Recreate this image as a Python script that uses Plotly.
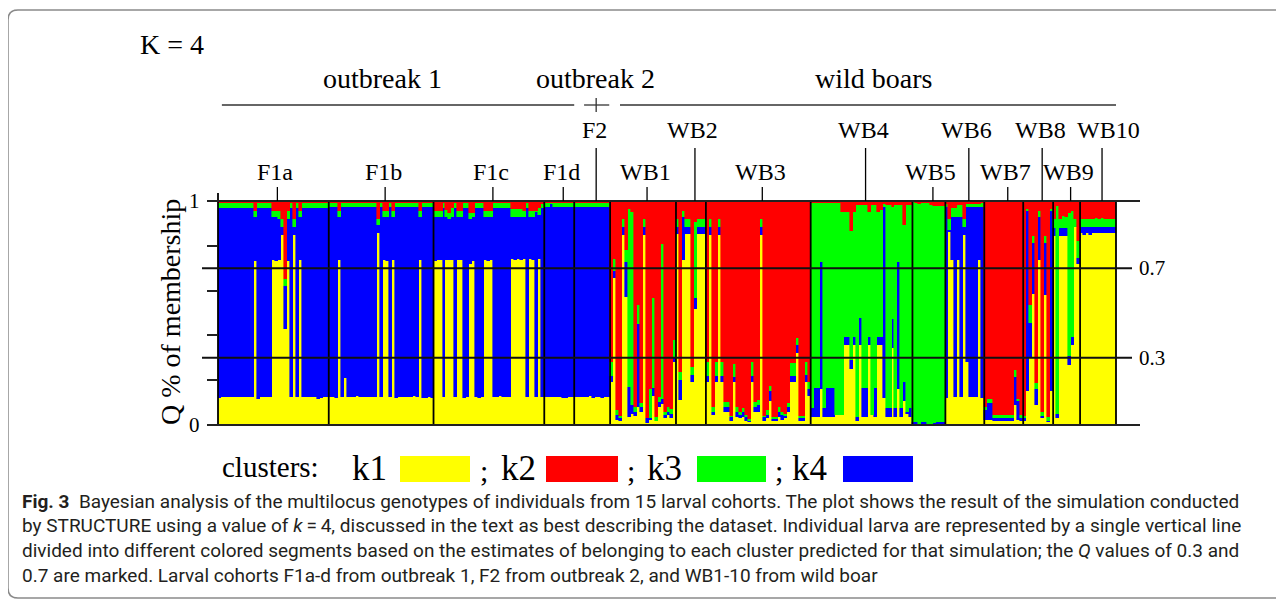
import plotly.graph_objects as go

# ---------------- data ----------------
groups = ["F1a", "F1b", "F1c", "F1d", "F2", "WB1", "WB2", "WB3", "WB4", "WB5",
          "WB6", "WB7", "WB8", "WB9", "WB10"]
upper_row = ["F2", "WB2", "WB4", "WB6", "WB8", "WB10"]
origins = ["outbreak 1", "outbreak 2", "wild boars"]
origin_members = [["F1a", "F1b", "F1c", "F1d"], ["F2"],
                  ["WB1", "WB2", "WB3", "WB4", "WB5", "WB6", "WB7", "WB8", "WB9", "WB10"]]
cluster_names = ["k1", "k2", "k3", "k4"]
cluster_colors = {"k1": "#FFFF00", "k2": "#FF0000", "k3": "#00FF00", "k4": "#0000FF"}
q_marks = [0.3, 0.7]
y_ticks = [0, 0.2, 0.4, 0.6, 0.8, 1.0]

# per individual: (top of k1, top of k4, top of k3); k2 fills the rest up to 1
F1a = [(0.12, 0.968, 0.99), (0.125, 0.97, 0.99), (0.125, 0.97, 0.99), (0.125, 0.97, 0.99),
       (0.125, 0.97, 0.99), (0.125, 0.97, 0.99), (0.125, 0.97, 0.99), (0.125, 0.97, 0.99),
       (0.125, 0.97, 0.99), (0.125, 0.97, 0.99), (0.125, 0.97, 0.99), (0.125, 0.97, 0.99),
       (0.73, 0.93, 0.957), (0.118, 0.97, 0.99), (0.125, 0.97, 0.99), (0.125, 0.97, 0.99),
       (0.125, 0.97, 0.99), (0.125, 0.97, 0.99), (0.737, 0.93, 0.957), (0.73, 0.93, 0.957),
       (0.737, 0.918, 0.957), (0.848, 0.885, 0.918), (0.43, 0.62, 0.65), (0.73, 0.918, 0.957),
       (0.125, 0.97, 0.99), (0.848, 0.885, 0.918), (0.125, 0.97, 0.99), (0.737, 0.93, 0.957),
       (0.125, 0.97, 0.99), (0.125, 0.97, 0.99), (0.125, 0.97, 0.99), (0.125, 0.97, 0.99),
       (0.125, 0.97, 0.99), (0.115, 0.97, 0.99), (0.12, 0.97, 0.99), (0.125, 0.97, 0.99),
       (0.125, 0.97, 0.99)]
F1b = [(0.125, 0.972, 0.99), (0.125, 0.972, 0.99), (0.12, 0.972, 0.99), (0.737, 0.93, 0.957),
       (0.125, 0.972, 0.99), (0.21, 0.972, 0.99), (0.125, 0.972, 0.99), (0.125, 0.972, 0.99),
       (0.125, 0.972, 0.99), (0.13, 0.972, 0.99), (0.125, 0.972, 0.99), (0.125, 0.972, 0.99),
       (0.125, 0.972, 0.99), (0.125, 0.972, 0.99), (0.125, 0.972, 0.99), (0.125, 0.972, 0.99),
       (0.856, 0.893, 0.918), (0.125, 0.972, 0.99), (0.737, 0.93, 0.957), (0.73, 0.93, 0.957),
       (0.125, 0.972, 0.99), (0.737, 0.93, 0.957), (0.12, 0.972, 0.99), (0.125, 0.972, 0.99),
       (0.125, 0.972, 0.99), (0.125, 0.972, 0.99), (0.125, 0.972, 0.99), (0.125, 0.972, 0.99),
       (0.128, 0.972, 0.99), (0.125, 0.972, 0.99), (0.737, 0.93, 0.957), (0.12, 0.972, 0.99),
       (0.12, 0.972, 0.99), (0.125, 0.972, 0.99), (0.12, 0.972, 0.99)]
F1c = [(0.73, 0.93, 0.957), (0.737, 0.93, 0.957), (0.737, 0.93, 0.957), (0.125, 0.968, 0.99),
       (0.737, 0.93, 0.96), (0.737, 0.918, 0.945), (0.737, 0.93, 0.967), (0.125, 0.968, 0.99),
       (0.737, 0.93, 0.957), (0.737, 0.93, 0.957), (0.12, 0.968, 0.99), (0.125, 0.968, 0.99),
       (0.72, 0.918, 0.945), (0.73, 0.93, 0.945), (0.125, 0.968, 0.99), (0.12, 0.968, 0.99),
       (0.125, 0.968, 0.99), (0.737, 0.93, 0.957), (0.73, 0.93, 0.957), (0.737, 0.93, 0.957),
       (0.125, 0.968, 0.99), (0.125, 0.968, 0.99), (0.13, 0.968, 0.99), (0.125, 0.968, 0.99),
       (0.125, 0.968, 0.99), (0.125, 0.968, 0.99), (0.742, 0.93, 0.964), (0.737, 0.93, 0.964),
       (0.742, 0.93, 0.964), (0.737, 0.93, 0.964), (0.742, 0.93, 0.957), (0.125, 0.968, 0.99),
       (0.742, 0.93, 0.957), (0.737, 0.93, 0.957), (0.125, 0.95, 0.957), (0.742, 0.9375, 0.967),
       (0.125, 0.97, 0.985)]
F1d = [(0.126, 0.975, 0.99), (0.126, 0.975, 0.99), (0.126, 0.985, 0.99), (0.126, 0.975, 0.99),
       (0.126, 0.975, 0.99), (0.126, 0.975, 0.99), (0.12, 0.975, 0.99), (0.12, 0.975, 0.99),
       (0.126, 0.975, 0.99), (0.126, 0.975, 0.99)]
F2 = [(0.126, 0.975, 0.99), (0.126, 0.975, 0.99), (0.126, 0.975, 0.99), (0.126, 0.975, 0.99),
      (0.126, 0.975, 0.99), (0.131, 0.975, 0.99), (0.119, 0.975, 0.99), (0.126, 0.975, 0.99),
      (0.126, 0.975, 0.99), (0.119, 0.975, 0.99), (0.126, 0.975, 0.99), (0.126, 0.975, 0.99)]
WB1 = [(0.19, 0.22, 0.283), (0.655, 0.688, 0.74), (0.022, 0.045, 0.067), (0.018, 0.03, 0.04),
       (0.848, 0.885, 0.918), (0.573, 0.729, 0.781), (0.037, 0.171, 0.964), (0.05, 0.09, 0.952),
       (0.04, 0.06, 0.08), (0.08, 0.449, 0.536), (0.06, 0.08, 0.1), (0.848, 0.885, 0.918),
       (0.01, 0.03, 0.03), (0.022, 0.03, 0.16), (0.129, 0.164, 0.569), (0.02, 0.02, 0.035),
       (0.082, 0.104, 0.124), (0.094, 0.115, 0.808), (0.03, 0.045, 0.06), (0.045, 0.06, 0.082),
       (0.03, 0.05, 0.07), (0.283, 0.305, 0.379)]
WB2 = [(0.853, 0.885, 0.92), (0.11, 0.2, 0.236), (0.737, 0.93, 0.955), (0.853, 0.885, 0.918),
       (0.853, 0.885, 0.918), (0.19, 0.223, 0.26), (0.52, 0.565, 0.908), (0.853, 0.885, 0.92),
       (0.853, 0.885, 0.92), (0.853, 0.885, 0.92)]
WB3 = [(0.19, 0.22, 0.28), (0.848, 0.885, 0.918), (0.045, 0.06, 0.082), (0.19, 0.22, 0.28),
       (0.848, 0.885, 0.918), (0.19, 0.22, 0.28), (0.06, 0.082, 0.104), (0.06, 0.082, 0.104),
       (0.018, 0.037, 0.04), (0.19, 0.213, 0.272), (0.037, 0.06, 0.08), (0.03, 0.045, 0.06),
       (0.037, 0.06, 0.075), (0.02, 0.037, 0.045), (0.015, 0.02, 0.025), (0.19, 0.22, 0.28),
       (0.06, 0.082, 0.104), (0.06, 0.09, 0.11), (0.848, 0.885, 0.918), (0.018, 0.037, 0.04),
       (0.033, 0.045, 0.067), (0.107, 0.152, 0.174), (0.018, 0.025, 0.037), (0.02, 0.025, 0.035),
       (0.037, 0.06, 0.08), (0.022, 0.045, 0.06), (0.03, 0.04, 0.05), (0.06, 0.08, 0.1),
       (0.19, 0.22, 0.275), (0.19, 0.22, 0.275), (0.32, 0.357, 0.39), (0.02, 0.033, 0.04),
       (0.02, 0.03, 0.04), (0.19, 0.223, 0.28), (0.13, 0.16, 0.19)]
WB4 = [(0.037, 0.074, 0.99), (0.037, 0.164, 0.99), (0.037, 0.164, 0.99), (0.16, 0.727, 0.99),
       (0.037, 0.074, 0.99), (0.037, 0.164, 0.99), (0.037, 0.164, 0.99), (0.037, 0.164, 0.99),
       (0.045, 0.045, 0.99), (0.045, 0.045, 0.99), (0.045, 0.045, 0.952), (0.357, 0.394, 0.952),
       (0.357, 0.394, 0.952), (0.25, 0.29, 0.868), (0.357, 0.394, 0.952), (0.02, 0.037, 0.98),
       (0.357, 0.476, 0.98), (0.037, 0.164, 0.98), (0.037, 0.164, 0.98), (0.357, 0.394, 0.952),
       (0.045, 0.045, 0.98), (0.037, 0.164, 0.98), (0.357, 0.394, 0.952), (0.357, 0.394, 0.96),
       (0.12, 0.975, 0.985), (0.037, 0.074, 0.98), (0.037, 0.074, 0.98), (0.342, 0.474, 0.975),
       (0.037, 0.074, 0.98), (0.16, 0.727, 0.98), (0.037, 0.074, 0.98), (0.107, 0.19, 0.893),
       (0.05, 0.06, 0.98), (0.037, 0.074, 0.98)]
WB5 = [(0.003, 0.015, 0.995), (0.003, 0.012, 0.99), (0.003, 0.003, 0.985), (0.003, 0.015, 0.99),
       (0.003, 0.015, 0.99), (0.003, 0.003, 0.99), (0.003, 0.003, 0.98), (0.003, 0.01, 0.978),
       (0.003, 0.012, 0.978), (0.003, 0.012, 0.978), (0.003, 0.012, 0.978)]
WB6 = [(0.12, 0.975, 0.985), (0.86, 0.87, 0.918), (0.737, 0.93, 0.967), (0.126, 0.93, 0.967),
       (0.737, 0.93, 0.98), (0.126, 0.93, 0.98), (0.85, 0.885, 0.918), (0.283, 0.975, 0.985),
       (0.126, 0.975, 0.985), (0.126, 0.975, 0.985), (0.126, 0.975, 0.985), (0.737, 0.975, 0.985),
       (0.12, 0.975, 0.99)]
WB7 = [(0.022, 0.067, 0.082), (0.022, 0.1, 0.115), (0.022, 0.1, 0.115), (0.018, 0.033, 0.045),
       (0.018, 0.033, 0.045), (0.018, 0.033, 0.045), (0.018, 0.033, 0.045), (0.018, 0.033, 0.045),
       (0.018, 0.033, 0.045), (0.018, 0.033, 0.045), (0.09, 0.216, 0.246), (0.022, 0.108, 0.118),
       (0.018, 0.033, 0.045)]
WB8 = [(0.02, 0.03, 0.04), (0.152, 0.955, 0.964), (0.3, 0.454, 0.536), (0.585, 0.811, 0.845),
       (0.09, 0.16, 0.186), (0.737, 0.93, 0.955), (0.03, 0.04, 0.06), (0.58, 0.811, 0.845),
       (0.015, 0.02, 0.035), (0.15, 0.955, 0.964)]
WB9 = [(0.845, 0.878, 0.918), (0.03, 0.05, 0.978), (0.845, 0.878, 0.918), (0.845, 0.878, 0.935),
       (0.845, 0.878, 0.93), (0.27, 0.307, 0.945), (0.357, 0.394, 0.955), (0.885, 0.885, 0.918),
       (0.72, 0.747, 0.82)]
WB10 = [(0.856, 0.885, 0.92), (0.85, 0.885, 0.92), (0.856, 0.885, 0.92), (0.85, 0.885, 0.92),
        (0.856, 0.885, 0.92), (0.856, 0.885, 0.922), (0.856, 0.885, 0.92), (0.856, 0.885, 0.922),
        (0.856, 0.885, 0.92), (0.856, 0.885, 0.92), (0.856, 0.885, 0.92), (0.856, 0.885, 0.92)]

cohorts = {"F1a": F1a, "F1b": F1b, "F1c": F1c, "F1d": F1d, "F2": F2, "WB1": WB1, "WB2": WB2,
           "WB3": WB3, "WB4": WB4, "WB5": WB5, "WB6": WB6, "WB7": WB7, "WB8": WB8, "WB9": WB9,
           "WB10": WB10}

caption_lines = [
    "<b>Fig. 3</b>  Bayesian analysis of the multilocus genotypes of individuals from 15 larval cohorts. "
    "The plot shows the result of the simulation conducted",
    "by STRUCTURE using a value of <i>k</i>\u2009=\u20094, discussed in the text as best describing the dataset. "
    "Individual larva are represented by a single vertical line",
    "divided into different colored segments based on the estimates of belonging to each cluster predicted "
    "for that simulation; the <i>Q</i> values of 0.3 and",
    "0.7 are marked. Larval cohorts F1a-d from outbreak 1, F2 from outbreak 2, and WB1-10 from wild boar",
]

# ---------------- build ----------------
rows = [b for g in groups for b in cohorts[g]]
n = len(rows)
xs = [i + 0.5 for i in range(n)]
memb = {
    "k1": [b[0] for b in rows],
    "k4": [b[1] - b[0] for b in rows],
    "k3": [b[2] - b[1] for b in rows],
    "k2": [1 - b[2] for b in rows],
}
starts, c = {}, 0
for g in groups:
    starts[g] = c
    c += len(cohorts[g])
ends = {g: starts[g] + len(cohorts[g]) for g in groups}
centers = {g: (starts[g] + ends[g]) / 2 for g in groups}

OFF = 8                      # page body margin of the html page
W, H = 1284 - OFF, 601 - OFF
L, R, T, B = 218, 1116, 201, 425   # plot area in screen pixels


def PX(px):
    return (px - L) / (R - L)


def PY(py):
    return (B - py) / (B - T)


SERIF = "Liberation Serif, Times New Roman, serif"
fig = go.Figure()
for k in ["k1", "k4", "k3", "k2"]:
    fig.add_trace(go.Bar(x=xs, y=memb[k], width=1.0, name=k,
                         marker=dict(color=cluster_colors[k],
                                     line=dict(width=0.6, color=cluster_colors[k])),
                         hoverinfo="skip", showlegend=False))

shapes = []
annos = []
blk = "#000000"


def text(x, y, s, size, xref="paper", yref="paper", xanchor="center", **kw):
    d = dict(x=x, y=y, xref=xref, yref=yref, text=s, showarrow=False, xanchor=xanchor,
             yanchor="middle", font=dict(family=kw.pop("family", SERIF), size=size,
                                         color=kw.pop("color", "black")))
    d.update(kw)
    annos.append(d)


# cohort separators
for g in groups[1:]:
    shapes.append(dict(type="line", xref="x", yref="paper", x0=starts[g], x1=starts[g],
                       y0=0, y1=1, line=dict(color=blk, width=1.8), layer="above"))
# frame of plot
shapes.append(dict(type="line", xref="paper", yref="paper", x0=0, x1=0, y0=0, y1=PY(193),
                   line=dict(color=blk, width=1.8)))
shapes.append(dict(type="line", xref="paper", yref="paper", x0=1, x1=1, y0=0, y1=1,
                   line=dict(color=blk, width=1.8)))
for yy in [0, 1]:
    shapes.append(dict(type="line", xref="paper", yref="paper", x0=PX(208), x1=PX(1140),
                       y0=yy, y1=yy, line=dict(color="#222", width=1.8)))
for q in q_marks:
    shapes.append(dict(type="line", xref="paper", yref="y", x0=PX(202), x1=PX(1132),
                       y0=q, y1=q, line=dict(color="#111", width=2), layer="above"))
    text(PX(1152), q, str(q), 21, yref="y")
for v, lab in [(1, "1"), (0, "0")]:
    text(PX(194), v, lab, 21, yref="y")

# cohort labels and their tick lines
for g in groups:
    top = PY(148) if g in upper_row else PY(187)
    shapes.append(dict(type="line", xref="x", yref="paper", xsizemode="pixel", xanchor=centers[g],
                       x0=4, x1=4, y0=1, y1=top, line=dict(color=blk, width=1.3)))
    ly = PY(130) if g in upper_row else PY(172)
    xsh = 10 if g == "WB10" else 2
    text(centers[g], ly, g, 24, xref="x", xshift=xsh)

# origin headers
hy = PY(105)
origin_shift = {"outbreak 1": -14, "outbreak 2": 3, "wild boars": 10}
origin_pad = {"outbreak 1": (1.3, 0.0), "outbreak 2": (3.3, 0.3), "wild boars": (3.3, -0.5)}
for o, mem in zip(origins, origin_members):
    a, b = starts[mem[0]], ends[mem[-1]]
    pa, pb = origin_pad[o]
    shapes.append(dict(type="line", xref="x", yref="paper", x0=a + pa, x1=b - pb, y0=hy, y1=hy,
                       line=dict(color="#333", width=1.3)))
    text((a + b) / 2, PY(78), o, 28, xref="x", xshift=origin_shift[o])
shapes.append(dict(type="line", xref="x", yref="paper", xsizemode="pixel", xanchor=centers["F2"],
                   x0=4, x1=4, y0=PY(98), y1=PY(112), line=dict(color="#333", width=1.3)))

text(PX(172), PY(44), "K = 4", 28)
text(PX(170), PY(312), "Q % of membership", 28, textangle=-90)

# cluster key
text(PX(220), PY(467), "clusters:", 29, xanchor="left")
key_x = {"k1": (350, 400, 470, 478), "k2": (499, 546, 618, 625),
         "k3": (645, 697, 766, 773), "k4": (790, 843, 913, None)}
for k in cluster_names:
    tx, r0, r1, sx = key_x[k]
    text(PX(tx), PY(468), k, 35, xanchor="left")
    shapes.append(dict(type="rect", xref="paper", yref="paper", x0=PX(r0), x1=PX(r1),
                       y0=PY(482), y1=PY(456), fillcolor=cluster_colors[k], line=dict(width=0)))
    if sx:
        text(PX(sx), PY(470), ";", 30, xanchor="left")

# caption
for i, line in enumerate(caption_lines):
    text(PX(20), PY(501 + 24.8 * i), line, 19, xanchor="left",
         family="Roboto, Noto Sans, sans-serif", color="#231f20")

# outer rounded frame
fx0, fy0, fy1, rr = 8, 10, 598, 10
path = (f"M {PX(1300)},{PY(fy0)} L {PX(fx0 + rr)},{PY(fy0)} Q {PX(fx0)},{PY(fy0)} {PX(fx0)},{PY(fy0 + rr)} "
        f"L {PX(fx0)},{PY(fy1 - rr)} Q {PX(fx0)},{PY(fy1)} {PX(fx0 + rr)},{PY(fy1)} L {PX(1300)},{PY(fy1)}")
shapes.append(dict(type="path", xref="paper", yref="paper", path=path,
                   line=dict(color="#8a8a8a", width=1.5)))

fig.update_layout(
    width=W, height=H, barmode="stack", bargap=0, plot_bgcolor="white", paper_bgcolor="white",
    margin=dict(l=L - OFF, r=W - (R - OFF), t=T - OFF, b=H - (B - OFF), pad=0),
    xaxis=dict(range=[0, n], visible=False, fixedrange=True),
    yaxis=dict(range=[0, 1], showgrid=False, zeroline=False, showline=False, showticklabels=False,
               ticks="outside", tickvals=y_ticks, ticklen=10, tickwidth=1.5, tickcolor="#222",
               fixedrange=True),
    shapes=shapes, annotations=annos, showlegend=False,
)
fig.write_html("out.html")
